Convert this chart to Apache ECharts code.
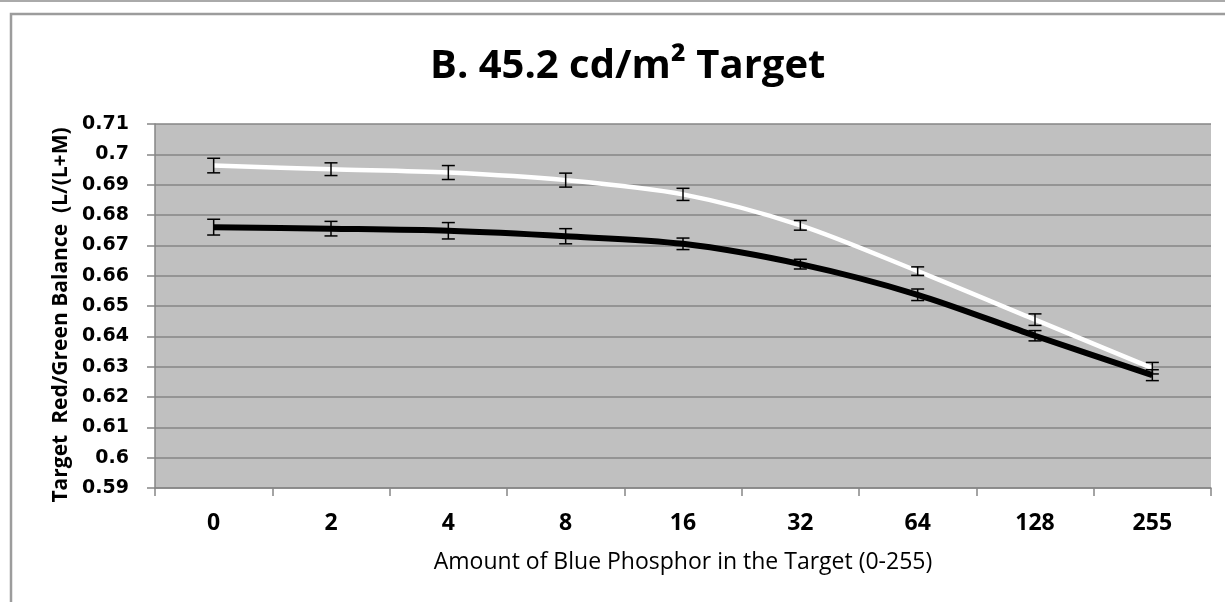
<!DOCTYPE html>
<html>
<head>
<meta charset="utf-8">
<script src="https://cdn.jsdelivr.net/npm/echarts@6/dist/echarts.min.js"></script>
<style>
html,body{margin:0;padding:0;background:#fff;overflow:hidden;}
#chart{width:1225px;height:602px;}
</style>
</head>
<body>
<div id="chart"></div>
<script>
const categories = ['0','2','4','8','16','32','64','128','255'];
const whiteMeans = [0.6963, 0.6951, 0.6940, 0.6915, 0.6868, 0.6766, 0.6615, 0.6455, 0.6295];
const whiteErr   = [0.0024, 0.0021, 0.0023, 0.0023, 0.0020, 0.0016, 0.0014, 0.0019, 0.0019];
const blackMeans = [0.6760, 0.6755, 0.6748, 0.6730, 0.6705, 0.6638, 0.6537, 0.6402, 0.6272];
const blackErr   = [0.0026, 0.0024, 0.0027, 0.0025, 0.0019, 0.0016, 0.0019, 0.0017, 0.0018];
const yTicks = {min: 0.59, max: 0.71, step: 0.01};

const chart = echarts.init(document.getElementById('chart'), null, {renderer: 'canvas', width: 1225, height: 602});

function errSeries(means, errs, name) {
  return {
    type: 'custom',
    name: name,
    z: 10,
    data: means.map((m, i) => [i, m - errs[i], m + errs[i]]),
    renderItem: function (params, api) {
      const lo = api.coord([api.value(0), api.value(1)]);
      const hi = api.coord([api.value(0), api.value(2)]);
      const hw = 6.5;
      const st = {stroke: '#000', lineWidth: 1.5};
      return {
        type: 'group',
        children: [
          {type: 'line', shape: {x1: lo[0], y1: lo[1], x2: hi[0], y2: hi[1]}, style: st},
          {type: 'line', shape: {x1: lo[0] - hw, y1: lo[1], x2: lo[0] + hw, y2: lo[1]}, style: st},
          {type: 'line', shape: {x1: hi[0] - hw, y1: hi[1], x2: hi[0] + hw, y2: hi[1]}, style: st}
        ]
      };
    }
  };
}

const option = {
  animation: false,
  backgroundColor: '#fff',
  title: {
    text: 'B. 45.2 cd/m² Target',
    left: 425,
    top: 42,
    textStyle: {fontFamily: 'Open Sans', fontWeight: 'bold', fontSize: 40, color: '#000'}
  },
  graphic: [
    {type: 'line', shape: {x1: 0, y1: 1, x2: 1225, y2: 1}, style: {stroke: '#aaa', lineWidth: 2}},
    {type: 'polyline', shape: {points: [[11, 610], [11, 14], [1240, 14]]}, style: {stroke: '#9c9c9c', lineWidth: 2.5, fill: null}}
  ],
  grid: {left: 155, top: 124, width: 1056, height: 364, backgroundColor: '#c0c0c0', show: true, borderWidth: 0,
         containLabel: false, outerBoundsMode: 'none'},
  xAxis: {
    type: 'category',
    data: categories,
    boundaryGap: true,
    name: 'Amount of Blue Phosphor in the Target (0-255)',
    nameLocation: 'middle',
    nameGap: 63,
    nameTextStyle: {fontFamily: 'Open Sans', fontSize: 23, color: '#000'},
    axisLine: {lineStyle: {color: '#868686', width: 1.5}},
    axisTick: {show: true, length: 8, alignWithLabel: false, lineStyle: {color: '#868686', width: 1.5}},
    axisLabel: {margin: 24, fontFamily: 'Open Sans', fontWeight: 'bold', fontSize: 23, color: '#000'},
    splitLine: {show: false}
  },
  yAxis: {
    type: 'value',
    min: yTicks.min,
    max: yTicks.max,
    interval: yTicks.step,
    name: 'Target  Red/Green Balance  (L/(L+M)',
    nameLocation: 'middle',
    nameGap: 80,
    nameTextStyle: {fontFamily: 'Open Sans', fontWeight: 'bold', fontSize: 21, color: '#000', padding: [0, 18, 0, 0]},
    axisLine: {show: true, lineStyle: {color: '#868686', width: 1.5}},
    axisTick: {show: true, length: 8, lineStyle: {color: '#868686', width: 1.5}},
    axisLabel: {
      margin: 26, fontFamily: 'DejaVu Sans', fontWeight: 'bold', fontSize: 19, color: '#000',
      formatter: v => String(+v.toFixed(2))
    },
    splitLine: {show: true, lineStyle: {color: '#868686', width: 1.5}}
  },
  series: [
    {type: 'line', name: 'white', data: whiteMeans, smooth: 0.3, showSymbol: false,
     lineStyle: {color: '#ffffff', width: 4.5}, z: 3},
    {type: 'line', name: 'black', data: blackMeans, smooth: 0.3, showSymbol: false,
     lineStyle: {color: '#000000', width: 6}, z: 4},
    errSeries(whiteMeans, whiteErr, 'whiteErr'),
    errSeries(blackMeans, blackErr, 'blackErr')
  ]
};
chart.setOption(option);
</script>
</body>
</html>
